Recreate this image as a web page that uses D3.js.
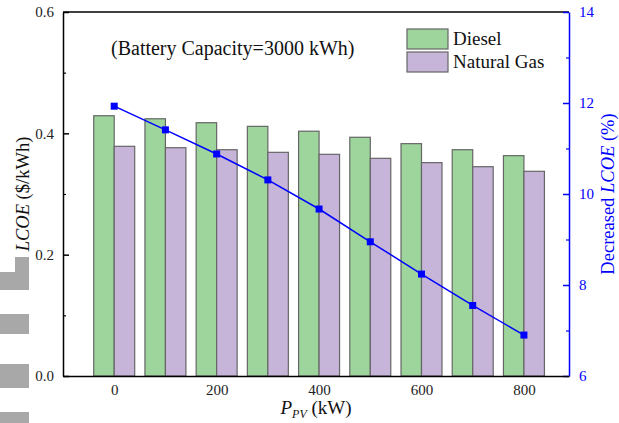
<!DOCTYPE html>
<html>
<head>
	<meta charset="UTF-8">
	<title>LCOE vs PV</title>
	<script src="https://cdn.jsdelivr.net/npm/d3@7"></script>
	<style>
		body { margin: 0; background: #fff; }
		text { font-family: "Liberation Serif", "Times New Roman", serif; }
	</style>
</head>
<body>
	<script>
		// data
		var pv = [0, 100, 200, 300, 400, 500, 600, 700, 800];
		var diesel = [0.429, 0.424, 0.4175, 0.4115, 0.4035, 0.3935, 0.383, 0.373, 0.3632];
		var naturalGas = [0.3786, 0.3763, 0.373, 0.3687, 0.3654, 0.3588, 0.3517, 0.345, 0.3374];
		var decreased = [11.93, 11.41, 10.88, 10.31, 9.67, 8.95, 8.24, 7.55, 6.90];
		var leftTicks = [0.0, 0.2, 0.4, 0.6];
		var rightTicks = [6, 8, 10, 12, 14];
		var xTicks = [0, 200, 400, 600, 800];

		var margin = {top: 12, right: 50, bottom: 47, left: 63},
			width = 619 - margin.left - margin.right,
			height = 423 - margin.top - margin.bottom;

		var x = d3.scaleLinear().domain([-100, 888]).range([0, width]);
		var y = d3.scaleLinear().domain([0, 0.6]).range([height, 0]);
		var y2 = d3.scaleLinear().domain([6, 14]).range([height, 0]);
		var barW = 40;

		var svg = d3.select('body')
			.append('svg')
			.attr('width', 619)
			.attr('height', 423);

		// grey blocks at the left edge of the source image
		var blocks = [[15, 257, 14, 16], [0, 272, 29, 18], [0, 314, 29, 20], [0, 364, 29, 24], [0, 412, 29, 11]];
		svg.selectAll('rect.blk').data(blocks).enter().append('rect')
			.attr('x', d => d[0]).attr('y', d => d[1])
			.attr('width', d => d[2]).attr('height', d => d[3])
			.attr('fill', '#a8a8a8');

		var g = svg.append('g')
			.attr('transform', 'translate(' + margin.left + ',' + margin.top + ')');

		// bars
		g.selectAll('rect.diesel').data(pv).enter().append('rect')
			.attr('x', (d) => x(d - barW))
			.attr('y', (d, i) => y(diesel[i]))
			.attr('width', x(barW) - x(0))
			.attr('height', (d, i) => height - y(diesel[i]))
			.attr('fill', '#9dd59c')
			.attr('stroke', '#666')
			.attr('stroke-width', 1.2);

		g.selectAll('rect.gas').data(pv).enter().append('rect')
			.attr('x', (d) => x(d))
			.attr('y', (d, i) => y(naturalGas[i]))
			.attr('width', x(barW) - x(0))
			.attr('height', (d, i) => height - y(naturalGas[i]))
			.attr('fill', '#c6b4d9')
			.attr('stroke', '#666')
			.attr('stroke-width', 1.2);

		// line
		var line = d3.line()
			.x((d, i) => x(pv[i]))
			.y(d => y2(d));
		g.append('path')
			.datum(decreased)
			.attr('d', line)
			.attr('fill', 'none')
			.attr('stroke', '#0000ff')
			.attr('stroke-width', 1.5);
		g.selectAll('rect.pt').data(decreased).enter().append('rect')
			.attr('x', (d, i) => x(pv[i]) - 3.5)
			.attr('y', d => y2(d) - 3.5)
			.attr('width', 7)
			.attr('height', 7)
			.attr('fill', '#0000ff');

		// frame
		g.append('line').attr('x1', 0).attr('x2', width).attr('y1', 0).attr('y2', 0)
			.attr('stroke', '#000').attr('stroke-width', 1.5);

		// left axis
		var yAxis = g.append('g')
			.call(d3.axisLeft(y).tickValues(leftTicks).tickFormat(d3.format('.1f')).tickSizeInner(-6).tickSizeOuter(0).tickPadding(9));
		yAxis.selectAll('line, path').attr('stroke', '#000').attr('stroke-width', 1.5);
		yAxis.selectAll('text').attr('font-size', 15).attr('fill', '#222');
		g.append('g')
			.call(d3.axisLeft(y).tickValues([0.1, 0.3, 0.5]).tickFormat('').tickSizeInner(-3).tickSizeOuter(0))
			.call(a => a.select('.domain').remove())
			.selectAll('line').attr('stroke', '#000').attr('stroke-width', 1.2);

		// right axis
		var y2Axis = g.append('g')
			.attr('transform', 'translate(' + width + ',0)')
			.call(d3.axisRight(y2).tickValues(rightTicks).tickSizeInner(-6).tickSizeOuter(0).tickPadding(10));
		y2Axis.selectAll('line, path').attr('stroke', '#0000ff').attr('stroke-width', 1.5);
		y2Axis.selectAll('text').attr('font-size', 15).attr('fill', '#0000ff');
		g.append('g')
			.attr('transform', 'translate(' + width + ',0)')
			.call(d3.axisRight(y2).tickValues([7, 9, 11, 13]).tickFormat('').tickSizeInner(-3).tickSizeOuter(0))
			.call(a => a.select('.domain').remove())
			.selectAll('line').attr('stroke', '#0000ff').attr('stroke-width', 1.2);

		// bottom axis
		var xAxis = g.append('g')
			.attr('transform', 'translate(0,' + height + ')')
			.call(d3.axisBottom(x).tickValues(xTicks).tickSizeInner(0).tickSizeOuter(0).tickPadding(8));
		xAxis.selectAll('path').attr('stroke', '#000').attr('stroke-width', 1.5);
		xAxis.selectAll('text').attr('font-size', 15).attr('fill', '#222');

		// annotation
		g.append('text')
			.attr('x', 48).attr('y', 43)
			.attr('font-size', 20).attr('fill', '#111')
			.text('(Battery Capacity=3000 kWh)');

		// legend
		var legend = [['Diesel', '#9dd59c'], ['Natural Gas', '#c6b4d9']];
		var lg = g.selectAll('g.lg').data(legend).enter().append('g')
			.attr('transform', (d, i) => 'translate(344,' + (17 + i * 23) + ')');
		lg.append('rect').attr('width', 41).attr('height', 20)
			.attr('fill', d => d[1]).attr('stroke', '#666').attr('stroke-width', 1.2);
		lg.append('text').attr('x', 46).attr('y', 16)
			.attr('font-size', 19).attr('fill', '#111').text(d => d[0]);

		// axis titles
		var lt = svg.append('text')
			.attr('transform', 'translate(29,' + (margin.top + height / 2) + ') rotate(-90)')
			.attr('text-anchor', 'middle').attr('font-size', 18.5).attr('fill', '#111');
		lt.append('tspan').attr('font-style', 'italic').text('LCOE');
		lt.append('tspan').text(' ($/kWh)');

		var rt = svg.append('text')
			.attr('transform', 'translate(614,' + (margin.top + height / 2) + ') rotate(-90)')
			.attr('text-anchor', 'middle').attr('font-size', 18.5).attr('fill', '#0000ff');
		rt.append('tspan').text('Decreased ');
		rt.append('tspan').attr('font-style', 'italic').text('LCOE');
		rt.append('tspan').text(' (%)');

		var xt = svg.append('text')
			.attr('x', margin.left + width / 2).attr('y', 414)
			.attr('text-anchor', 'middle').attr('font-size', 19).attr('fill', '#111');
		xt.append('tspan').attr('font-style', 'italic').text('P');
		xt.append('tspan').attr('font-style', 'italic').attr('font-size', 12).attr('dy', 4).text('PV');
		xt.append('tspan').attr('dy', -4).text(' (kW)');
	</script>
</body>
</html>
